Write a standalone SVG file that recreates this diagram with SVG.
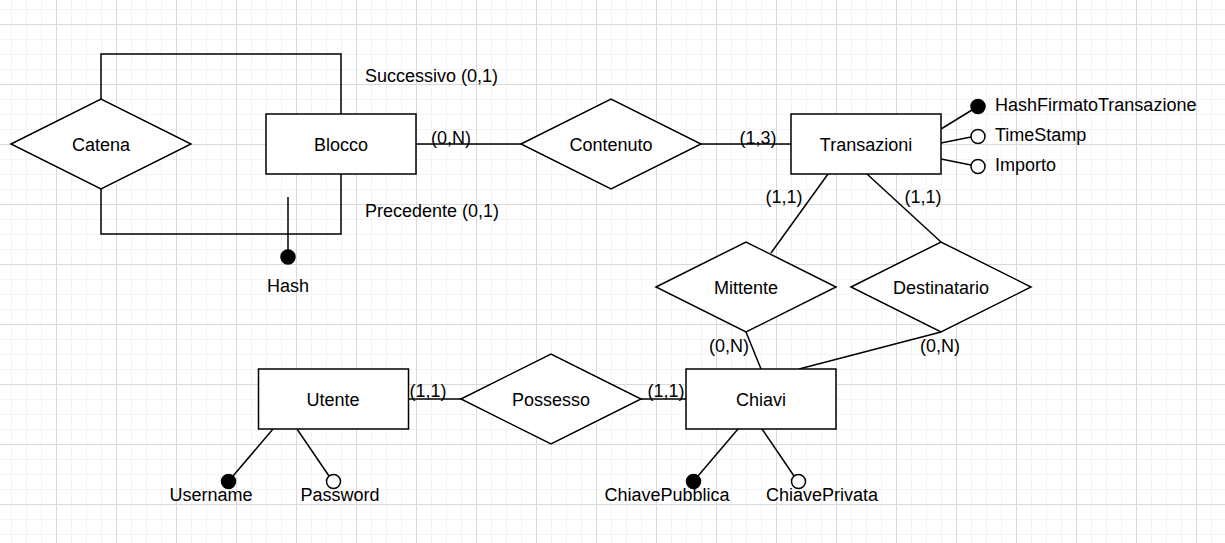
<svg xmlns="http://www.w3.org/2000/svg" width="1225" height="543" viewBox="0 0 1225 543">
<style>
.sh{fill:#fff;stroke:#000;stroke-width:1.5}
.ln{fill:none;stroke:#000;stroke-width:1.5}
.t{font-family:"Liberation Sans",Arial,sans-serif;font-size:18px;fill:#000}
.c{text-anchor:middle}
.k{fill:#000;stroke:#000;stroke-width:1.5}
.o{fill:#fff;stroke:#000;stroke-width:1.5}
</style>
<defs>
<pattern id="gmin" patternUnits="userSpaceOnUse" x="11" y="9" width="15" height="15">
<path d="M0.5 0V15M0 0.5H15" stroke="#f3f3f3" stroke-width="1" fill="none"/>
</pattern>
<pattern id="gmaj" patternUnits="userSpaceOnUse" x="56" y="24" width="60" height="60">
<path d="M0.5 0V60M0 0.5H60" stroke="#dadada" stroke-width="1" fill="none"/>
</pattern>
</defs>
<rect width="1225" height="543" fill="#fff"/>
<rect width="1225" height="543" fill="url(#gmin)"/>
<rect width="1225" height="543" fill="url(#gmaj)"/>

<g id="connectors">
<path class="ln" d="M101 99V54H341V114"/>
<path class="ln" d="M101 189V234H341V174"/>
<path class="ln" d="M416 144H521"/>
<path class="ln" d="M701 144H791"/>
<path class="ln" d="M828 174L771 253"/>
<path class="ln" d="M867 174L941 242"/>
<path class="ln" d="M746 332L761 369"/>
<path class="ln" d="M941 332L799 369"/>
<path class="ln" d="M408 399H461"/>
<path class="ln" d="M641 399H686"/>
</g>

<g id="Catena"><polygon class="sh" points="11,144 101,99 191,144 101,189"/><text class="t c" x="101" y="151">Catena</text></g>
<g id="Blocco"><rect class="sh" x="266" y="114" width="150" height="60"/><text class="t c" x="341" y="151">Blocco</text></g>
<g id="Hash"><path class="ln" d="M288 197V250"/><circle class="k" cx="288" cy="257" r="7"/><text class="t c" x="288" y="292">Hash</text></g>
<g id="lbl-succ"><text class="t" x="365" y="81.5">Successivo (0,1)</text></g>
<g id="lbl-prec"><text class="t" x="365" y="217">Precedente (0,1)</text></g>
<g id="Contenuto"><polygon class="sh" points="521,144 611,99 701,144 611,189"/><text class="t c" x="611" y="151">Contenuto</text></g>
<g id="card-0N-blocco"><text class="t c" x="451" y="143.5">(0,N)</text></g>
<g id="card-13"><text class="t c" x="758" y="143.5">(1,3)</text></g>
<g id="Transazioni"><rect class="sh" x="791" y="114" width="150" height="60"/><text class="t c" x="866" y="151">Transazioni</text></g>
<g id="attr-HashFirmatoTransazione"><path class="ln" d="M941 129L972 110"/><circle class="k" cx="978" cy="106.5" r="7"/><text class="t" x="995" y="111">HashFirmatoTransazione</text></g>
<g id="attr-TimeStamp"><path class="ln" d="M941 143L971 137"/><circle class="o" cx="978" cy="136.5" r="7"/><text class="t" x="995" y="141">TimeStamp</text></g>
<g id="attr-Importo"><path class="ln" d="M941 159L971 165"/><circle class="o" cx="978" cy="166.5" r="7"/><text class="t" x="995" y="171">Importo</text></g>
<g id="card-11-mitt"><text class="t c" x="784" y="203">(1,1)</text></g>
<g id="card-11-dest"><text class="t c" x="923" y="203">(1,1)</text></g>
<g id="Mittente"><polygon class="sh" points="656,287 746,242 836,287 746,332"/><text class="t c" x="746" y="294">Mittente</text></g>
<g id="Destinatario"><polygon class="sh" points="851,287 941,242 1031,287 941,332"/><text class="t c" x="941" y="294">Destinatario</text></g>
<g id="card-0N-mitt"><text class="t c" x="729" y="352">(0,N)</text></g>
<g id="card-0N-dest"><text class="t c" x="940" y="352">(0,N)</text></g>
<g id="Utente"><rect class="sh" x="258.5" y="369" width="150" height="60"/><text class="t c" x="333" y="406">Utente</text></g>
<g id="Possesso"><polygon class="sh" points="461,399 551,354 641,399 551,444"/><text class="t c" x="551" y="406">Possesso</text></g>
<g id="card-11-utente"><text class="t c" x="428" y="397">(1,1)</text></g>
<g id="card-11-chiavi"><text class="t c" x="666" y="397">(1,1)</text></g>
<g id="Chiavi"><rect class="sh" x="686" y="369" width="150" height="60"/><text class="t c" x="761" y="406">Chiavi</text></g>
<g id="attr-Username"><path class="ln" d="M273 429L233 476"/><circle class="k" cx="228.5" cy="481.5" r="7"/><text class="t c" x="211" y="501">Username</text></g>
<g id="attr-Password"><path class="ln" d="M297 429L329 476"/><circle class="o" cx="333.5" cy="481.5" r="7"/><text class="t c" x="340" y="501">Password</text></g>
<g id="attr-ChiavePubblica"><path class="ln" d="M738 429L698 476"/><circle class="k" cx="693.5" cy="481.5" r="7"/><text class="t c" x="667" y="501">ChiavePubblica</text></g>
<g id="attr-ChiavePrivata"><path class="ln" d="M762 429L794 476"/><circle class="o" cx="798.5" cy="481.5" r="7"/><text class="t c" x="822" y="501">ChiavePrivata</text></g>
</svg>
